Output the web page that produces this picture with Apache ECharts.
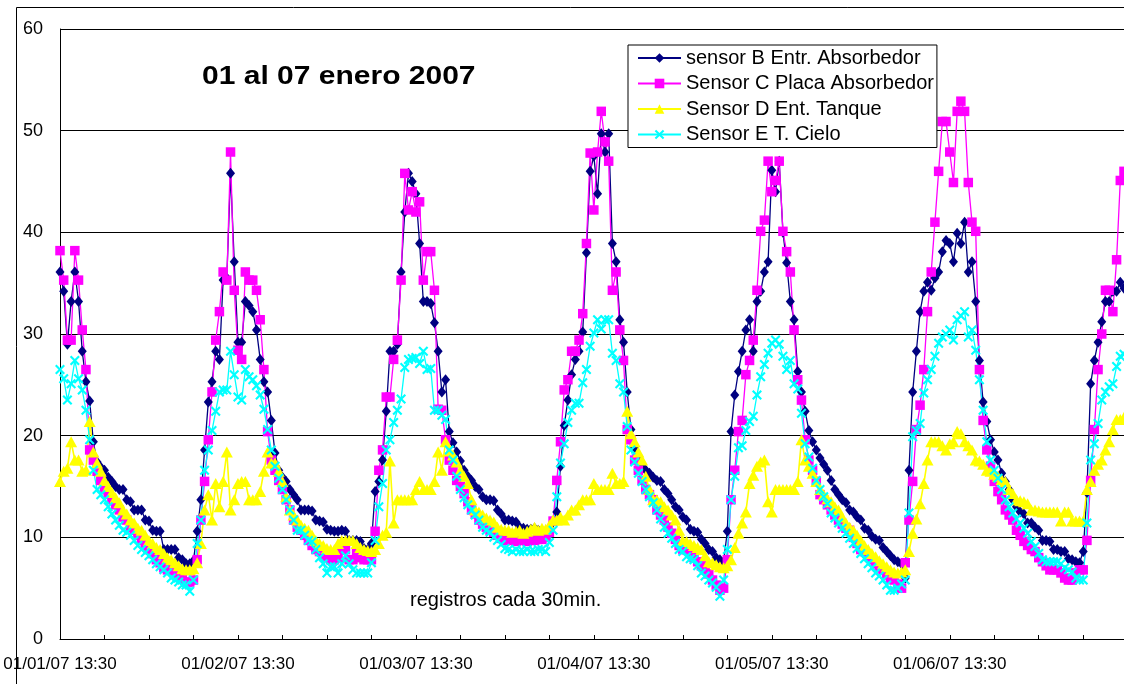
<!DOCTYPE html>
<html>
<head>
<meta charset="utf-8">
<script src="https://cdn.jsdelivr.net/npm/echarts@6/dist/echarts.min.js"></script>
<style>
html,body{margin:0;padding:0;background:#fff;}
#chart{width:1124px;height:684px;}
</style>
</head>
<body>
<div id="chart"></div>
<script>
// ---- DATA (30-minute records, 01/01/07 13:30 onwards) ----
const tickLabels = ['01/01/07 13:30','01/02/07 13:30','01/03/07 13:30','01/04/07 13:30','01/05/07 13:30','01/06/07 13:30'];
const seriesNames = ['sensor B Entr. Absorbedor','Sensor C Placa Absorbedor','Sensor D Ent. Tanque','Sensor E T. Cielo'];

const sensorB = [
36.1,34.2,29.0,33.2,36.1,33.2,28.3,25.3,23.4,19.4,17.4,16.9,
16.6,15.9,15.5,15.0,14.7,14.7,13.7,13.5,12.7,12.7,12.7,11.7,
11.6,10.7,10.6,10.6,8.8,8.8,8.8,8.8,8.0,7.8,7.4,7.4,
7.7,10.6,13.7,18.6,23.3,25.3,28.3,27.5,35.3,35.5,45.8,37.1,
29.2,29.2,33.2,32.8,32.2,30.4,27.5,25.3,24.3,21.5,18.3,16.6,
15.9,15.5,14.7,14.2,13.7,12.7,12.7,12.7,12.6,11.7,11.6,11.5,
10.8,10.7,10.6,10.6,10.7,10.6,9.7,9.7,9.7,9.6,8.9,8.8,
9.4,14.5,15.5,17.6,22.4,28.3,28.3,29.0,36.1,42.0,45.8,45.0,
43.8,38.9,33.2,33.2,33.0,31.1,28.3,24.3,25.5,20.4,19.3,18.4,
17.5,16.6,16.0,15.6,15.0,14.7,14.0,13.7,13.7,13.6,12.7,12.3,
11.7,11.7,11.6,11.5,11.0,10.9,10.8,10.8,10.9,10.7,10.6,10.6,
10.8,11.5,12.5,17.0,21.0,23.5,26.0,27.5,28.3,30.2,38.0,46.0,
47.5,43.8,49.7,47.9,49.7,38.9,37.1,31.4,29.2,24.3,20.6,18.8,
17.6,17.0,16.6,16.3,15.9,15.6,15.5,14.7,14.3,13.7,13.0,12.7,
12.0,11.7,10.8,10.6,10.5,9.8,9.4,8.8,8.6,8.0,7.8,7.6,
10.6,20.4,24.0,26.3,28.3,30.4,31.4,28.3,33.2,34.2,36.1,37.1,
46.1,44.0,47.0,40.0,37.0,33.2,31.4,26.3,24.3,22.4,20.5,19.4,
18.6,17.8,17.2,16.6,15.6,14.7,14.2,13.7,13.4,12.7,12.5,12.0,
11.7,10.9,10.7,10.1,9.8,9.7,9.0,8.6,8.2,7.8,7.6,7.4,
6.0,16.6,24.3,28.3,32.2,34.2,35.1,34.3,35.5,36.1,38.1,39.2,
38.9,37.1,39.9,38.9,41.0,36.1,37.1,33.2,27.4,23.3,21.4,19.6,
18.4,17.6,16.3,15.5,14.7,13.7,13.0,12.5,12.3,11.4,11.4,11.0,
10.7,9.7,9.7,9.6,8.8,8.8,8.6,8.6,7.9,7.8,7.6,7.5,
8.6,14.4,25.1,27.4,29.2,31.2,33.2,33.2,34.2,34.2,35.1,34.5
];

const sensorC = [
38.2,35.3,29.4,29.4,38.2,35.3,30.4,26.5,18.6,17.6,16.5,15.6,
14.7,14.3,13.7,13.2,12.7,12.0,11.7,11.0,10.7,10.2,9.7,9.2,
8.8,8.4,7.8,7.5,7.0,6.8,6.8,6.5,6.1,5.9,5.6,5.6,
5.8,7.8,11.7,15.5,19.6,24.3,29.4,32.2,36.1,35.3,47.9,34.3,
28.4,27.5,36.1,35.3,35.3,34.3,31.4,26.5,20.4,17.6,16.6,15.6,
14.7,13.7,12.7,11.7,11.0,10.7,10.2,9.7,9.2,8.8,8.6,8.3,
8.1,7.8,7.8,8.0,8.8,8.8,7.8,7.8,8.6,8.0,7.8,7.8,
7.8,10.6,16.6,18.6,23.8,23.8,27.5,29.4,35.3,45.8,42.2,44.0,
42.0,43.0,35.3,38.1,38.1,34.3,22.6,22.5,19.6,17.6,16.6,15.6,
15.0,14.3,13.5,12.7,12.3,11.7,11.3,11.0,10.7,10.5,10.2,9.9,
9.7,9.7,9.7,9.6,9.7,9.7,9.6,9.7,9.7,9.8,9.8,10.0,
10.5,11.6,15.6,19.4,24.5,25.5,28.3,28.3,29.4,32.0,38.9,47.8,
42.2,47.9,51.9,48.9,47.0,34.3,36.1,30.4,27.4,20.6,19.6,17.6,
16.6,15.6,14.7,14.2,13.7,12.7,12.2,11.7,11.0,10.4,9.8,9.2,
8.8,8.8,8.6,8.0,7.6,7.2,6.8,6.4,5.8,5.3,4.8,5.0,
7.8,13.7,16.6,20.4,21.5,26.0,27.4,29.4,34.3,40.1,41.2,47.0,
44.0,45.1,47.0,40.1,38.1,36.1,30.4,25.5,23.5,19.6,17.6,16.6,
15.5,14.2,13.7,13.2,12.7,12.2,11.7,11.3,10.9,10.7,10.0,9.4,
8.8,8.6,8.2,7.8,7.4,7.0,6.8,6.3,5.9,5.8,5.4,5.0,
7.5,11.7,15.5,20.6,23.0,26.5,32.2,36.1,41.0,46.0,50.9,50.9,
47.9,44.9,51.9,52.9,51.9,44.9,41.0,40.1,26.5,21.5,18.6,17.0,
15.5,14.5,13.7,12.7,12.2,11.7,10.7,10.2,9.6,9.2,8.8,8.6,
8.0,7.6,7.2,6.8,6.8,6.8,6.5,6.0,5.8,5.8,6.5,6.8,
6.8,9.7,15.6,20.6,26.5,30.0,34.3,34.3,32.2,37.3,45.1,46.0
];

const sensorD = [
15.5,16.5,16.8,19.4,17.6,17.6,16.5,16.6,21.4,18.4,17.3,16.5,
15.6,15.0,14.4,13.9,13.4,12.7,12.3,11.7,11.4,10.9,10.7,10.2,
9.7,9.4,9.0,8.8,8.4,8.0,7.8,7.5,7.2,6.9,6.8,6.8,
6.9,7.5,9.4,12.7,14.2,11.7,15.3,13.0,15.5,18.4,12.7,13.7,
15.3,15.5,15.5,13.7,13.7,13.7,14.5,16.5,18.4,17.3,17.3,16.5,
15.5,14.0,12.7,12.2,11.7,11.2,10.9,10.7,10.2,9.7,9.4,9.2,
8.9,8.8,8.8,9.4,9.7,9.7,9.7,9.7,9.4,9.0,8.8,8.7,
8.6,8.8,9.4,10.2,10.5,17.5,11.4,13.7,13.7,13.7,13.7,13.7,
14.7,15.5,14.7,14.7,14.7,15.5,18.4,16.6,19.4,18.5,18.1,17.4,
16.6,16.0,15.3,13.7,12.7,12.5,12.2,11.9,11.7,11.5,11.0,10.8,
10.7,10.7,10.5,10.6,10.7,10.4,10.6,10.8,11.0,10.7,10.9,10.8,
11.2,11.7,11.7,12.0,11.7,12.2,12.7,12.7,13.2,13.7,13.7,13.7,
15.3,14.7,14.7,14.7,14.7,16.3,15.3,15.3,15.5,22.4,20.2,19.4,
18.4,17.6,16.0,14.7,13.7,13.7,13.5,13.0,12.7,12.2,11.7,10.7,
9.7,9.6,9.4,9.2,9.0,8.8,8.2,7.6,7.5,7.3,7.1,7.0,
7.2,7.8,9.0,10.4,11.4,12.5,15.3,16.1,17.0,17.4,17.6,13.5,
12.5,14.7,14.7,14.7,14.7,14.7,14.7,15.5,19.6,17.6,17.0,16.3,
15.5,14.7,14.2,13.8,13.5,13.0,12.7,12.0,11.4,11.0,10.7,10.2,
9.7,9.2,8.8,8.4,8.1,7.7,7.4,7.1,6.8,6.6,6.5,6.6,
6.8,8.6,10.4,11.8,13.3,15.3,17.6,19.4,19.4,19.4,19.0,18.6,
19.2,19.4,20.4,20.2,19.4,19.0,18.6,17.6,17.5,17.2,16.6,16.5,
16.2,16.0,15.7,15.5,14.7,14.3,13.7,13.6,13.5,13.3,12.7,12.7,
12.6,12.5,12.5,12.5,12.5,12.5,11.6,12.5,12.5,11.6,11.6,11.6,
11.6,14.7,15.5,16.6,17.2,17.6,18.6,19.4,20.6,21.6,21.6,21.8
];

const sensorE = [
26.5,25.6,23.5,25.1,27.4,25.6,24.5,22.5,19.6,16.6,14.7,14.2,
13.7,13.0,12.3,11.7,11.2,10.7,10.5,10.2,9.7,9.2,8.8,8.5,
8.2,7.8,7.4,7.1,6.8,6.5,6.0,5.8,5.6,5.3,5.3,4.7,
5.8,9.4,11.7,16.6,18.6,20.5,22.4,24.3,24.5,24.5,28.3,26.0,
23.8,23.5,26.5,25.8,25.5,24.9,24.0,22.6,20.6,18.6,17.0,15.8,
14.7,13.7,12.7,11.7,10.7,10.7,10.2,9.7,9.6,8.8,8.0,7.4,
6.5,7.1,7.1,6.5,7.4,8.2,7.4,6.8,6.5,6.5,6.5,6.5,
7.5,9.7,13.0,15.3,18.6,19.6,21.3,22.5,23.6,26.7,27.5,27.6,
27.7,27.1,28.3,26.5,26.6,22.5,22.5,22.0,21.6,18.6,17.6,16.0,
14.7,13.9,13.2,12.7,12.2,11.7,11.0,10.7,10.5,10.0,9.7,9.3,
8.9,8.8,8.6,8.8,8.6,8.6,8.8,8.6,8.6,8.8,8.8,8.6,
9.5,10.7,14.0,17.3,19.2,21.3,22.5,23.2,23.2,25.2,26.5,28.8,
30.1,31.4,30.5,31.4,31.4,28.1,27.4,25.1,24.3,20.9,18.6,17.4,
16.3,15.5,14.7,14.0,13.4,12.7,11.8,11.0,10.4,9.9,9.4,8.8,
8.6,8.1,7.9,7.8,7.2,6.5,6.2,5.8,5.5,5.1,4.2,5.8,
8.8,13.7,16.0,18.8,19.0,20.5,21.4,21.9,24.0,25.8,27.0,28.1,
29.1,29.4,29.0,27.8,26.5,27.4,25.1,24.6,22.2,19.2,17.9,16.8,
15.6,14.7,14.0,13.3,12.4,11.9,11.4,10.9,10.4,9.9,9.4,8.9,
8.4,7.9,7.4,7.0,6.5,6.2,5.8,5.3,4.8,4.8,5.0,5.4,
5.8,12.4,19.9,20.5,21.2,24.2,25.5,26.5,27.8,29.1,29.7,30.0,
30.4,29.4,31.4,31.8,32.2,29.7,30.4,28.4,25.5,22.5,19.4,17.6,
16.6,15.8,14.7,13.7,13.0,12.4,11.8,11.4,10.9,10.4,9.6,9.1,
8.4,7.8,7.6,7.6,7.6,7.6,7.4,7.0,6.8,6.6,6.0,5.8,
5.8,11.4,17.6,19.2,21.2,23.5,24.3,24.8,25.1,26.8,27.8,28.0
];

// ---- category labels (one per 30-min record) ----
function pad(n){ return (n < 10 ? '0' : '') + n; }
const categories = sensorB.map(function(_, i){
  if (i % 48 === 0) return tickLabels[i / 48];
  const m = 13 * 60 + 30 + i * 30;
  const d = 1 + Math.floor(m / 1440);
  const hh = Math.floor((m % 1440) / 60);
  return '01/' + pad(d) + '/07 ' + pad(hh) + ':' + pad(m % 60);
});

const FONT = '"Liberation Sans", Arial, sans-serif';
const crossPath = 'path://M0,1.5L1.5,0L5,3.5L8.5,0L10,1.5L6.5,5L10,8.5L8.5,10L5,6.5L1.5,10L0,8.5L3.5,5Z';

const chart = echarts.init(document.getElementById('chart'), null, {renderer: 'canvas'});

function mkSeries(name, data, color, symbol, size, lw) {
  return {
    name: name, type: 'line', data: data,
    symbol: symbol, symbolSize: size, showSymbol: true, showAllSymbol: true,
    clip: false, animation: false,
    lineStyle: {color: color, width: lw},
    itemStyle: {color: color, borderWidth: 0},
    emphasis: {disabled: true}
  };
}

chart.setOption({
  animation: false,
  backgroundColor: '#fff',
  grid: {left: 60, top: 29, width: 1068, height: 610, containLabel: false},
  xAxis: {
    type: 'category', data: categories, boundaryGap: false,
    axisLine: {show: true, lineStyle: {color: '#000', width: 1}},
    axisTick: {show: true, inside: true, length: 4, interval: 11, lineStyle: {color: '#000'}},
    axisLabel: {interval: 47, color: '#000', fontSize: 17, fontFamily: FONT, margin: 17},
    splitLine: {show: false}
  },
  yAxis: {
    type: 'value', min: 0, max: 60, interval: 10,
    axisLine: {show: true, lineStyle: {color: '#000', width: 1}},
    axisTick: {show: false},
    axisLabel: {color: '#000', fontSize: 18, fontFamily: FONT, margin: 17},
    splitLine: {show: true, lineStyle: {color: '#000', width: 1}}
  },
  legend: {
    orient: 'vertical', left: 628, top: 45,
    data: seriesNames,
    backgroundColor: '#fff', borderColor: '#000', borderWidth: 1,
    padding: [3, 3, 3, 9], itemGap: 5.5, itemWidth: 43, itemHeight: 12,
    textStyle: {fontSize: 20, color: '#000', fontFamily: FONT},
    selectedMode: false
  },
  graphic: [
    {type: 'rect', silent: true, z: 100,
     shape: {x: 16.5, y: 7.5, width: 1300, height: 900},
     style: {fill: 'none', stroke: '#000', lineWidth: 1}},
    {type: 'text', silent: true, z: 100, x: 202, y: 77, scaleX: 1.2,
     style: {text: '01 al 07 enero 2007', font: 'bold 25px ' + FONT, fill: '#000',
             textAlign: 'left', textVerticalAlign: 'middle'}},
    {type: 'text', silent: true, z: 100, x: 410, y: 600,
     style: {text: 'registros cada 30min.', font: '20px ' + FONT, fill: '#000',
             textAlign: 'left', textVerticalAlign: 'middle'}}
  ],
  series: [
    mkSeries(seriesNames[0], sensorB, '#000080', 'diamond', [9, 11], 1.3),
    mkSeries(seriesNames[1], sensorC, '#FF00FF', 'rect', 9.5, 1.3),
    mkSeries(seriesNames[2], sensorD, '#FFFF00', 'triangle', [12, 11], 1.6),
    mkSeries(seriesNames[3], sensorE, '#00FFFF', crossPath, 10, 1.3)
  ]
});
</script>
</body>
</html>
